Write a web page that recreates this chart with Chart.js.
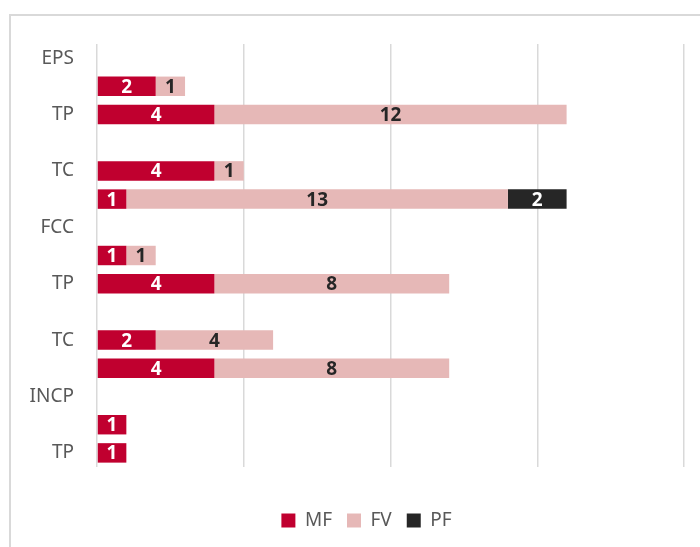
<!DOCTYPE html>
<html>
<head>
<meta charset="utf-8">
<script src="https://cdn.jsdelivr.net/npm/chart.js@4/dist/chart.umd.min.js"></script>
<style>
  html, body { margin: 0; padding: 0; background: #fff; overflow: hidden; }
  #box {
    position: absolute; left: 9px; top: 14px;
    width: 710px; height: 560px;
    border: 2px solid #d9d9d9;
  }
</style>
</head>
<body>
<div id="box"><canvas id="barchart" width="710" height="560"></canvas></div>
<script>
// categories, top to bottom (odd rows have their label hidden, as in the original)
var categories = ["EPS", "", "TP", "", "TC", "", "FCC", "", "TP", "", "TC", "", "INCP", "", "TP"];
var mfValues = [null, 2, 4, null, 4, 1, null, 1, 4, null, 2, 4, null, 1, 1];
var fvValues = [null, 1, 12, null, 1, 13, null, 1, 8, null, 4, 8, null, null, null];
var pfValues = [null, null, null, null, null, 2, null, null, null, null, null, null, null, null, null];

var fontFamily = "'Noto Sans', 'Open Sans', sans-serif";

// draws the value in the middle of each bar segment
const segmentLabels = {
    id: "segmentLabels",
    afterDatasetsDraw(chart) {
        const ctx = chart.ctx;
        ctx.save();
        ctx.font = "bold 19px " + fontFamily;
        ctx.textAlign = "center";
        ctx.textBaseline = "middle";
        chart.data.datasets.forEach((ds, i) => {
            const meta = chart.getDatasetMeta(i);
            meta.data.forEach((bar, j) => {
                const v = ds.data[j];
                if (v == null) return;
                const p = bar.getProps(["x", "base", "y"], true);
                ctx.fillStyle = ds.labelColor;
                ctx.fillText(String(v), (p.x + p.base) / 2, p.y + 1);
            });
        });
        ctx.restore();
    }
};

// centre the legend on the whole chart box, not on the padded area
const legendShift = {
    id: "legendShift",
    afterLayout(chart) {
        if (chart.legend) {
            chart.legend.left += 19;
            chart.legend.right += 19;
        }
    }
};

const ctx = document.getElementById("barchart").getContext("2d");

const config = {
    type: "bar",
    data: {
        labels: categories,
        datasets: [
            { label: "MF", data: mfValues, backgroundColor: "#c0002f", labelColor: "#ffffff" },
            { label: "FV", data: fvValues, backgroundColor: "#e6b8b7", labelColor: "#262626" },
            { label: "PF", data: pfValues, backgroundColor: "#262626", labelColor: "#ffffff" }
        ]
    },
    options: {
        indexAxis: "y",
        responsive: false,
        animation: false,
        categoryPercentage: 1,
        barPercentage: 0.69,
        layout: {
            padding: { top: 28, right: 37, bottom: 36, left: 0 }
        },
        scales: {
            x: {
                stacked: true,
                min: 0,
                max: 20,
                ticks: { display: false, stepSize: 5 },
                grid: { color: "#d9d9d9", lineWidth: 1.5, drawTicks: false },
                border: { display: false },
                afterFit: s => { s.height = 29; s.paddingLeft = 0; s.paddingRight = 0; }
            },
            y: {
                stacked: true,
                ticks: {
                    autoSkip: false,
                    padding: 23,
                    color: "#595959",
                    font: { family: fontFamily, size: 19 }
                },
                grid: { display: false, drawTicks: false },
                border: { display: false },
                afterFit: s => { s.width = 86; s.paddingTop = 0; s.paddingBottom = 0; }
            }
        },
        plugins: {
            legend: {
                position: "bottom",
                labels: {
                    boxWidth: 14,
                    boxHeight: 14,
                    padding: 15,
                    color: "#595959",
                    font: { family: fontFamily, size: 19 }
                }
            },
            tooltip: { enabled: false }
        }
    },
    plugins: [segmentLabels, legendShift]
};

var barChart = new Chart(ctx, config);
</script>
</body>
</html>
